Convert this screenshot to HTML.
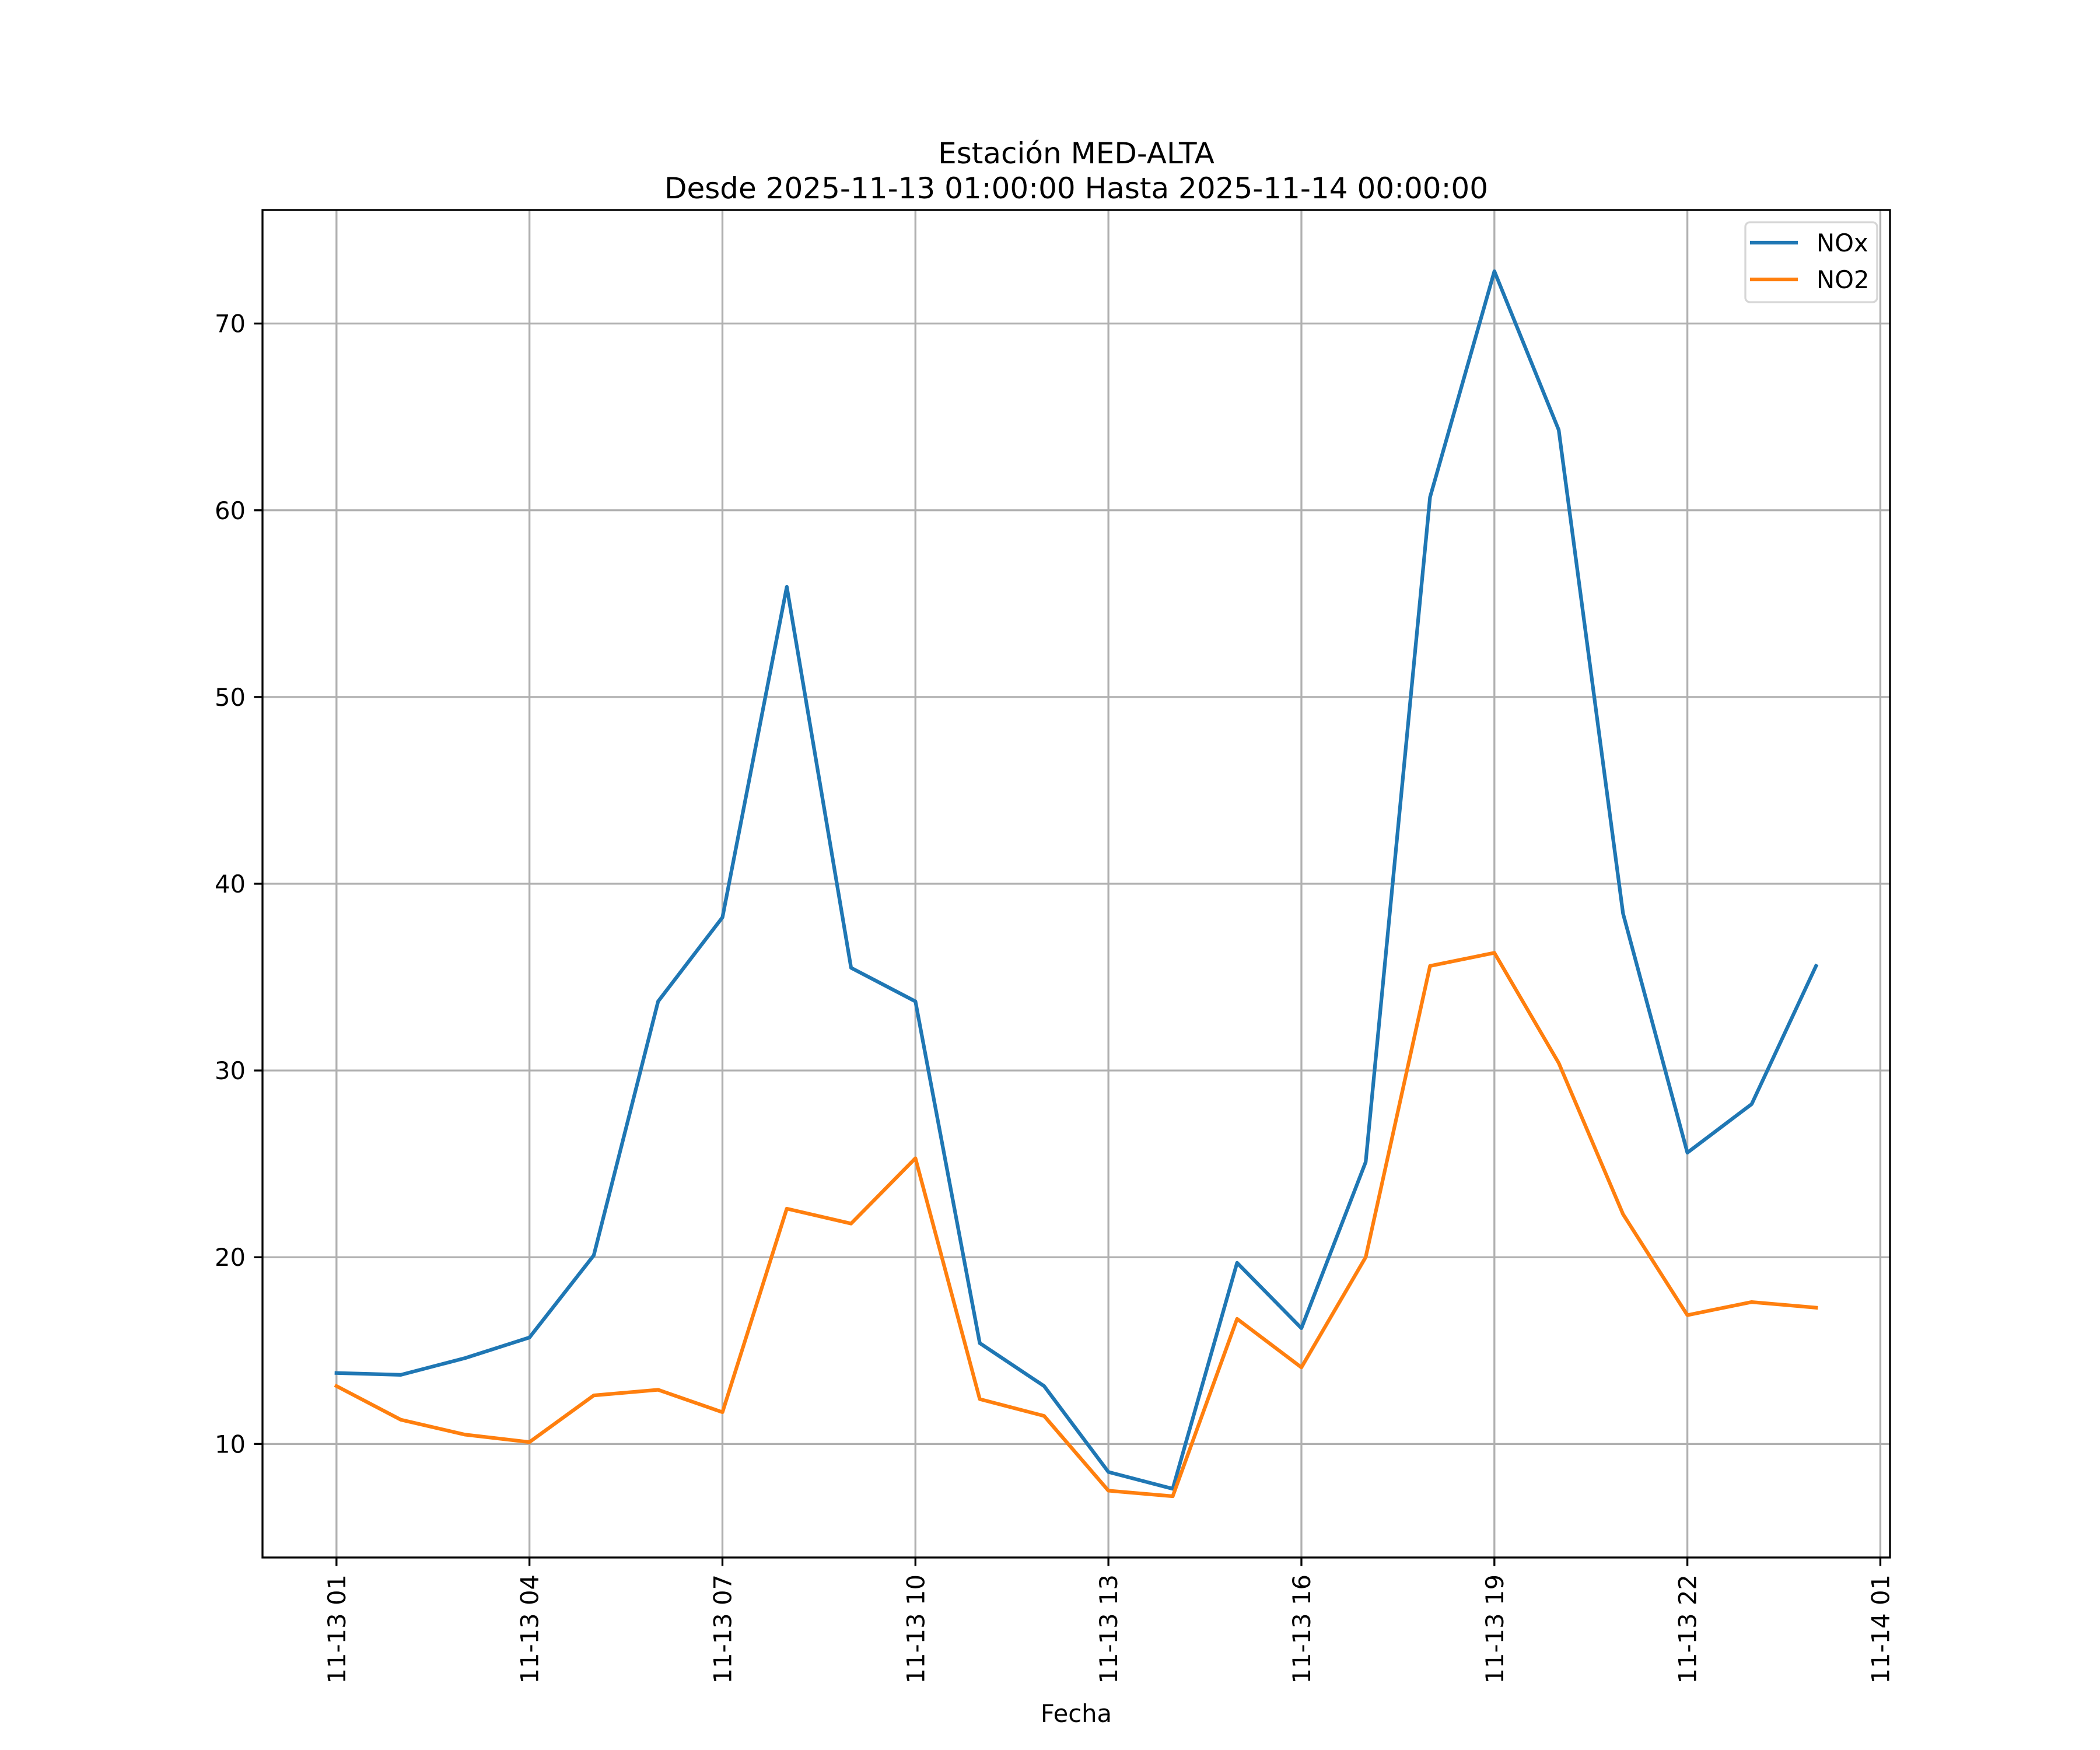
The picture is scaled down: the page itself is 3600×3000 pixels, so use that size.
<!DOCTYPE html>
<html><head><meta charset="utf-8"><style>
html,body{margin:0;padding:0;background:#fff;}
svg{display:block;font-family:"DejaVu Sans","Liberation Sans",sans-serif;}
</style></head><body>
<svg id="chart" width="3600" height="3000" viewBox="0 0 3600 3000" xmlns="http://www.w3.org/2000/svg">
<rect width="3600" height="3000" fill="#fff"/>
<g id="grid"></g>
<g id="series"></g>
<rect x="450" y="360" width="2790" height="2310" fill="none" stroke="#000" stroke-width="3.33"/>
<g id="ticks"></g>
<text x="1845" y="280" font-size="50" text-anchor="middle">Estación MED-ALTA</text>
<text x="1845" y="340" font-size="50" text-anchor="middle">Desde 2025-11-13 01:00:00 Hasta 2025-11-14 00:00:00</text>
<text x="1845" y="2952" font-size="41.7" text-anchor="middle">Fecha</text>
<g>
<rect x="2992" y="381" width="226" height="137" rx="8" fill="#fff" fill-opacity="0.8" stroke="#d6d6d6" stroke-width="3.33"/>
<line x1="3000" y1="416" x2="3082" y2="416" stroke="#1f77b4" stroke-width="6.25"/>
<text x="3114" y="431" font-size="41.7">NOx</text>
<line x1="3000" y1="479" x2="3082" y2="479" stroke="#ff7f0e" stroke-width="6.25"/>
<text x="3114" y="494" font-size="41.7">NO2</text>
</g>
</svg>
<script>
const hours = [1,2,3,4,5,6,7,8,9,10,11,12,13,14,15,16,17,18,19,20,21,22,23,24];
const noxValues = [13.8,13.7,14.6,15.7,20.1,33.7,38.2,55.9,35.5,33.7,15.4,13.1,8.5,7.6,19.7,16.2,25.1,60.7,72.8,64.3,38.4,25.6,28.2,35.6];
const no2Values = [13.1,11.3,10.5,10.1,12.6,12.9,11.7,22.6,21.8,25.3,12.4,11.5,7.5,7.2,16.7,14.1,20.0,35.6,36.3,30.4,22.3,16.9,17.6,17.3];
const xTickHours = [1,4,7,10,13,16,19,22,25];
const xTickLabels = ["11-13 01","11-13 04","11-13 07","11-13 10","11-13 13","11-13 16","11-13 19","11-13 22","11-14 01"];
const yTicks = [10,20,30,40,50,60,70];

const NS = "http://www.w3.org/2000/svg";
const L=450,R=3240,T=360,B=2670;
const allV = noxValues.concat(no2Values);
const vmin=Math.min(...allV), vmax=Math.max(...allV), vr=vmax-vmin;
const y0=vmin-0.05*vr, y1=vmax+0.05*vr;
const hmin=Math.min(...hours), hmax=Math.max(...hours), hr=hmax-hmin;
const x0=hmin-0.05*hr, x1=hmax+0.05*hr;
const sx=h=>L+(h-x0)/(x1-x0)*(R-L);
const sy=v=>B-(v-y0)/(y1-y0)*(B-T);
function mk(tag,attrs,parent){const e=document.createElementNS(NS,tag);for(const k in attrs)e.setAttribute(k,attrs[k]);parent.appendChild(e);return e;}
const grid=document.getElementById('grid'), ticks=document.getElementById('ticks'), series=document.getElementById('series');
xTickHours.forEach((h,i)=>{
  const x=sx(h);
  const g=mk('line',{x1:x,x2:x,y1:T,y2:B,stroke:'#b0b0b0','stroke-width':3.33},grid);
  
  
  const t=mk('line',{x1:x,x2:x,y1:B,y2:B+14.6,stroke:'#000','stroke-width':3.33},ticks);
  
  
  const tx=mk('text',{x:0,y:0,'font-size':41.7,'text-anchor':'end',transform:`translate(${x+15},${B+29}) rotate(-90)`},ticks);
  tx.textContent=xTickLabels[i];
  
  
});
yTicks.forEach(v=>{
  const y=sy(v);
  const g=mk('line',{x1:L,x2:R,y1:y,y2:y,stroke:'#b0b0b0','stroke-width':3.33},grid);
  
  
  const t=mk('line',{x1:L-14.6,x2:L,y1:y,y2:y,stroke:'#000','stroke-width':3.33},ticks);
  
  
  const tx=mk('text',{x:L-29,y:y+15,'font-size':41.7,'text-anchor':'end'},ticks);
  tx.textContent=String(v);
  
  
});
function line(vals,color,name){
  const pts=vals.map((v,i)=>sx(hours[i]).toFixed(1)+','+sy(v).toFixed(1)).join(' ');
  const p=mk('polyline',{points:pts,fill:'none',stroke:color,'stroke-width':6.25,'stroke-linejoin':'round','stroke-linecap':'square'},series);
  
  
}
line(noxValues,'#1f77b4','nox-line');
line(no2Values,'#ff7f0e','no2-line');
</script>
</body></html>
